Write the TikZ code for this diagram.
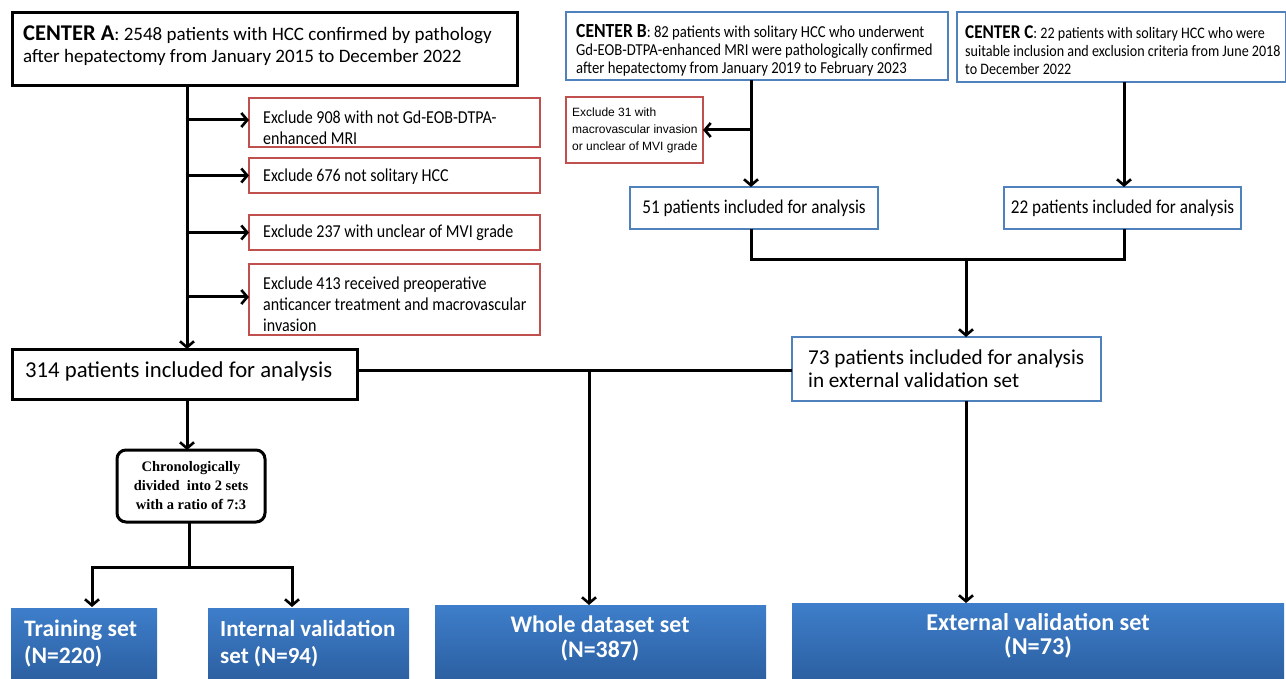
\documentclass[tikz,border=0pt]{standalone}
\usepackage{fontspec}
\setmainfont{Carlito}
\newfontfamily\narrowf[FakeStretch=0.88]{Carlito}
\newfontfamily\arialf{Liberation Sans}
\newfontfamily\timesf{Liberation Serif}
\usetikzlibrary{arrows.meta,calc}
\definecolor{bblue}{RGB}{79,129,189}
\definecolor{rred}{RGB}{192,80,77}
\definecolor{gtop}{RGB}{62,126,202}
\definecolor{gbot}{RGB}{44,96,162}
\tikzset{
  base/.style={anchor=north west, inner sep=0pt, outer sep=0pt},
  blackbox/.style={base, draw=black, line width=3pt},
  bluebox/.style={base, draw=bblue, line width=2.6pt},
  redbox/.style={base, draw=rred, line width=2.6pt},
  setbox/.style={base, top color=gtop, bottom color=gbot, draw=none},
  txt/.style={anchor=west, inner sep=0pt, align=left},
  settxt/.style={inner sep=0pt, text=white, font=\bfseries\fontsize{23.6}{27}\selectfont},
  line/.style={line width=3pt, black},
  arr/.style={line width=3pt, black, -{Straight Barb[length=6pt,width=14pt,line width=2.6pt]}},
}
\begin{document}
\begin{tikzpicture}[x=1pt,y=-1pt]
\useasboundingbox (0,0) rectangle (1286,679);
% CENTER A
\node[blackbox, minimum width=505, minimum height=73] (A) at (12,13) {};
\node[txt, font=\fontsize{19}{22}\selectfont] (At) at (23,46)
  {{\fontsize{22.5}{22}\selectfont\bfseries CENTER A}: 2548 patients with HCC confirmed by pathology\\after hepatectomy from January 2015 to December 2022};
% Exclude boxes
\tikzset{extxt/.style={txt, font=\narrowf\fontsize{18.2}{21}\selectfont}}
\node[redbox, minimum width=291, minimum height=49] (e1) at (249,98) {};
\node[extxt] (e1t) at (263,127.5) {Exclude 908 with not Gd-EOB-DTPA-\\enhanced MRI};
\node[redbox, minimum width=291, minimum height=35] (e2) at (249,158) {};
\node[extxt] (e2t) at (263,177) {Exclude 676 not solitary HCC};
\node[redbox, minimum width=291, minimum height=35] (e3) at (249,215) {};
\node[extxt] (e3t) at (263,233) {Exclude 237 with unclear of MVI grade};
\node[redbox, minimum width=291, minimum height=71] (e4) at (249,264) {};
\node[extxt] (e4t) at (263,304) {Exclude 413 received preoperative\\anticancer treatment and macrovascular\\invasion};
% 314
\node[blackbox, minimum width=345, minimum height=50] (p314) at (12,349) {};
\node[txt, font=\fontsize{22.7}{24}\selectfont] (p314t) at (25,371) {314 patients included for analysis};
% CENTER B and C
\node[bluebox, minimum width=382, minimum height=68] (B) at (566,12) {};
\node[txt, font=\narrowf\fontsize{16.7}{18.2}\selectfont] (Bt) at (576,50)
  {{\fontsize{20}{18}\selectfont\bfseries CENTER B}: 82 patients with solitary HCC who underwent\\Gd-EOB-DTPA-enhanced MRI were pathologically confirmed\\after hepatectomy from January 2019 to February 2023};
\node[bluebox, minimum width=329, minimum height=70] (C) at (957,12) {};
\node[txt, font=\narrowf\fontsize{16}{18.2}\selectfont] (Ct) at (965,50)
  {{\fontsize{19.5}{18}\selectfont\bfseries CENTER C}: 22 patients with solitary HCC who were\\suitable inclusion and exclusion criteria from June 2018\\to December 2022};
\node[redbox, minimum width=137, minimum height=66] (e31) at (566,97) {};
\node[txt, font=\arialf\fontsize{12}{17}\selectfont] (e31t) at (572,130)
  {Exclude 31 with\\macrovascular invasion\\or unclear of MVI grade};
\node[bluebox, minimum width=248, minimum height=42] (p51) at (630,187) {};
\node[inner sep=0pt, font=\narrowf\fontsize{19.5}{20}\selectfont] (p51t) at (p51.center) {51 patients included for analysis};
\node[bluebox, minimum width=237, minimum height=42] (p22) at (1004,187) {};
\node[inner sep=0pt, font=\narrowf\fontsize{19.5}{20}\selectfont] (p22t) at (p22.center) {22 patients included for analysis};
\node[bluebox, minimum width=309, minimum height=64] (p73) at (792,337) {};
\node[txt, font=\fontsize{21.2}{23}\selectfont] (p73t) at (808,368.5)
  {73 patients included for analysis\\in external validation set};
% chrono
\node[base, draw=black, line width=3pt, rounded corners=9pt, minimum width=148, minimum height=72] (chr) at (117,450) {};
\node[inner sep=0pt, align=center, font=\timesf\bfseries\fontsize{14.5}{19}\selectfont] (chrt) at (chr.center)
  {Chronologically\\divided\ \ into 2 sets\\with a ratio of 7:3};
% bottom sets
\node[setbox, minimum width=146, minimum height=71] (train) at (11,608) {};
\node[settxt, txt] (traint) at (24,643.5) {Training set\\(N=220)};
\node[setbox, minimum width=201, minimum height=71] (intv) at (208,608) {};
\node[settxt, txt, font=\bfseries\fontsize{23}{27}\selectfont] (intvt) at (220,643.5) {Internal validation\\set (N=94)};
\node[setbox, minimum width=331, minimum height=74] (whole) at (435,605) {};
\node[settxt, align=center, font=\bfseries\fontsize{23.8}{25}\selectfont] (wholet) at (600,638.5) {Whole dataset set\\(N=387)};
\node[setbox, minimum width=492, minimum height=76] (ext) at (792,603) {};
\node[settxt, align=center, font=\bfseries\fontsize{24.2}{24}\selectfont] (extt) at (1038,636) {External validation set\\(N=73)};
% connectors
\coordinate (trunk) at (187,86);
\draw[arr] (trunk) -- (trunk |- p314.north);
\draw[arr] (trunk |- 0,120) -- (e1.west |- 0,120);
\draw[arr] (trunk |- e2.west) -- (e2.west);
\draw[arr] (trunk |- e3.west) -- (e3.west);
\draw[arr] (trunk |- 0,297) -- (e4.west |- 0,297);
\coordinate (hl) at (357,370);
\draw[line] (hl) -- (hl -| p73.west);
\coordinate (w0) at (589,370);
\draw[arr] (w0) -- (w0 |- whole.north);
\draw[arr] (trunk |- p314.south) -- (trunk |- chr.north);
\coordinate (split) at (189,567);
\draw[line] (split |- chr.south) -- (split);
\draw[arr] (split) -| (92,607);
\draw[arr] (split) -| (292,607);
% B, C
\coordinate (bl) at (751,80);
\draw[arr] (bl) -- (bl |- p51.north);
\draw[arr] (bl |- e31.east) -- (e31.east);
\coordinate (cl) at (1124,82);
\draw[arr] (cl) -- (cl |- p22.north);
\coordinate (jn) at (966,260);
\draw[line] (bl |- p51.south) -- (bl |- jn) -- (cl |- jn) -- (cl |- p22.south);
\draw[arr] (jn) -- (jn |- p73.north);
\draw[arr] (jn |- p73.south) -- (jn |- ext.north);
\end{tikzpicture}
\end{document}
